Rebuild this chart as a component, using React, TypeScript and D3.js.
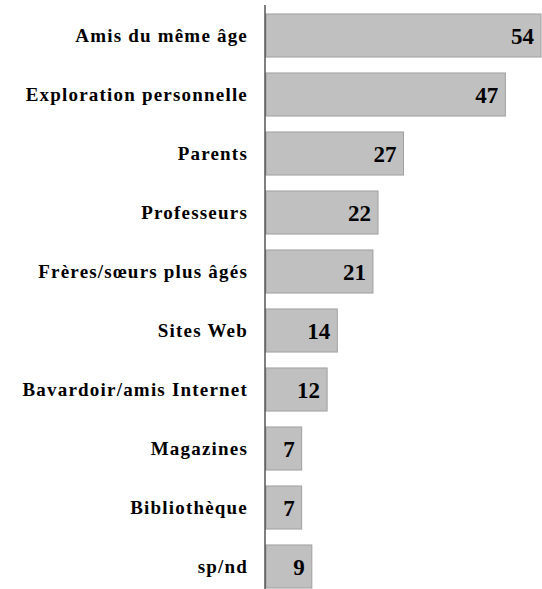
import { useEffect, useRef } from "react";
import * as d3 from "d3";

const categories = [
  "Amis du même âge",
  "Exploration personnelle",
  "Parents",
  "Professeurs",
  "Frères/sœurs plus âgés",
  "Sites Web",
  "Bavardoir/amis Internet",
  "Magazines",
  "Bibliothèque",
  "sp/nd",
];
const values = [54, 47, 27, 22, 21, 14, 12, 7, 7, 9];

export default function App() {
  const svgRef = useRef<SVGSVGElement>(null);

  useEffect(() => {
    const width = 542;
    const height = 589;
    const svg = d3.select(svgRef.current);
    svg.selectAll("*").remove();
    svg.attr("width", width).attr("height", height);

    const data = categories.map((c, i) => ({ name: c, value: values[i] }));

    const x = d3.scaleLinear().domain([0, 54]).range([266, 541]);
    const y = d3
      .scaleBand()
      .domain(categories)
      .range([6, 596])
      .paddingInner(0.27)
      .paddingOuter(0.135);

    // bars
    svg
      .append("g")
      .selectAll("rect")
      .data(data)
      .join("rect")
      .attr("x", x(0))
      .attr("y", (d) => y(d.name)!)
      .attr("width", (d) => x(d.value) - x(0))
      .attr("height", y.bandwidth())
      .attr("fill", "#c0c0c0")
      .attr("stroke", "#a0a0a0")
      .attr("stroke-width", 1);

    // value labels
    svg
      .append("g")
      .selectAll("text")
      .data(data)
      .join("text")
      .attr("x", (d) => x(d.value) - 7)
      .attr("y", (d) => y(d.name)! + y.bandwidth() / 2)
      .attr("dy", "0.35em")
      .attr("text-anchor", "end")
      .attr("font-family", "Liberation Serif, serif")
      .attr("font-weight", "bold")
      .attr("font-size", "23px")
      .attr("fill", "#000")
      .text((d) => d.value);

    // category labels
    svg
      .append("g")
      .selectAll("text")
      .data(data)
      .join("text")
      .attr("x", 248)
      .attr("y", (d) => y(d.name)! + y.bandwidth() / 2)
      .attr("dy", "0.35em")
      .attr("text-anchor", "end")
      .attr("font-family", "Liberation Serif, serif")
      .attr("font-weight", "bold")
      .attr("font-size", "19px")
      .attr("letter-spacing", "1.2px")
      .attr("fill", "#000")
      .text((d) => d.name);

    // axis line
    svg
      .append("line")
      .attr("x1", x(0) - 1)
      .attr("x2", x(0) - 1)
      .attr("y1", 5)
      .attr("y2", height)
      .attr("stroke", "#000")
      .attr("stroke-width", 1);
  }, []);

  return (
    <div style={{ position: "absolute", left: 0, top: 0 }}>
      <svg ref={svgRef}></svg>
    </div>
  );
}
